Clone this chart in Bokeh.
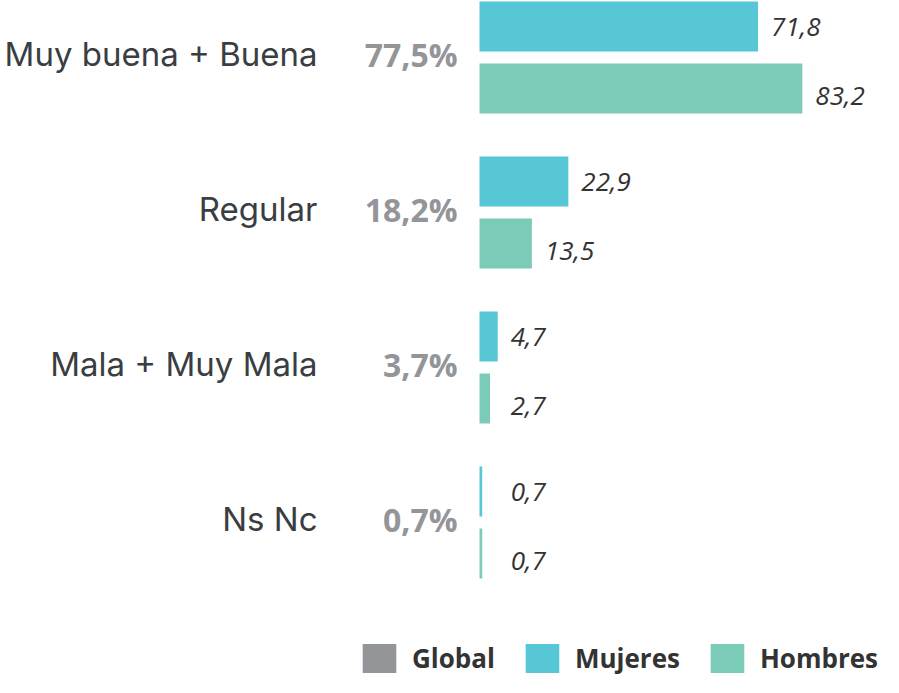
from bokeh.plotting import figure
from bokeh.models import Range1d, ColumnDataSource, Legend, LegendItem
from bokeh.core.properties import value
from bokeh.embed import file_html
from bokeh.resources import INLINE

categories = ["Muy buena + Buena", "Regular", "Mala + Muy Mala", "Ns Nc"]
global_pct = [77.5, 18.2, 3.7, 0.7]
mujeres = [71.8, 22.9, 4.7, 0.7]
hombres = [83.2, 13.5, 2.7, 0.7]
series_names = ["Global", "Mujeres", "Hombres"]

C_GLOBAL = "#939598"
C_MUJ = "#58C7D5"
C_HOM = "#7BCBB9"
C_TEXT = "#3a3d41"

def fmt(v):
    return ("%.1f" % v).replace(".", ",")

W, H = 883, 677
PXU = 3.88
ORIGIN = 479
p = figure(width=W, height=H, output_backend="svg", toolbar_location=None,
           x_range=Range1d(-ORIGIN / PXU, (W - ORIGIN) / PXU),
           y_range=Range1d(4.0, -57 / 155),
           min_border=0)
p.axis.visible = False
p.grid.visible = False
p.outline_line_color = None

idx = list(range(len(categories)))
BH = 50 / 155
src_m = ColumnDataSource(dict(y=[i - 0.2 for i in idx], v=mujeres,
                              lx=[max(v, 4.7) for v in mujeres],
                              t=[fmt(v) for v in mujeres]))
src_h = ColumnDataSource(dict(y=[i + 0.2 for i in idx], v=hombres,
                              lx=[max(v, 4.7) for v in hombres],
                              t=[fmt(v) for v in hombres]))
src_c = ColumnDataSource(dict(y=idx, cat=categories, zero=[0] * len(idx),
                              g=[fmt(v) + "%" for v in global_pct]))

r_m = p.hbar(y="y", left=0, right="v", height=BH, source=src_m,
             fill_color=C_MUJ, line_color=None)
r_h = p.hbar(y="y", left=0, right="v", height=BH, source=src_h,
             fill_color=C_HOM, line_color=None)
# zero-width swatch renderer for the "Global" legend entry
r_g = p.hbar(y="y", left="zero", right="zero", height=BH, source=src_c,
             fill_color=C_GLOBAL, line_color=None)

p.text(x="lx", y="y", text="t", source=src_m, x_offset=13, y_offset=0,
       text_font=value("Open Sans"), text_font_style="italic",
       text_font_size="26px", text_color="#333333",
       text_align="left", text_baseline="middle")
p.text(x="lx", y="y", text="t", source=src_h, x_offset=13, y_offset=7,
       text_font=value("Open Sans"), text_font_style="italic",
       text_font_size="26px", text_color="#333333",
       text_align="left", text_baseline="middle")

p.text(x=0, y="y", text="cat", source=src_c, x_offset=-162, y_offset=-4,
       text_font=value("Inter"), text_font_size="33px",
       text_color=C_TEXT, text_align="right", text_baseline="middle")
p.text(x=0, y="y", text="g", source=src_c, x_offset=-22, y_offset=-3,
       text_font=value("Open Sans"), text_font_style="bold",
       text_font_size="32px", text_color=C_GLOBAL,
       text_align="right", text_baseline="middle")

legend = Legend(items=[LegendItem(label=series_names[0], renderers=[r_g]),
                       LegendItem(label=series_names[1], renderers=[r_m]),
                       LegendItem(label=series_names[2], renderers=[r_h])],
                location=(358, 1), orientation="horizontal",
                glyph_width=42, glyph_height=36, label_standoff=12,
                spacing=26, padding=0, margin=0,
                border_line_color=None, background_fill_alpha=0,
                label_text_font="Open Sans", label_text_font_style="bold",
                label_text_font_size="26px", label_text_color="#333333",
                label_height=36)
p.add_layout(legend, "center")

open("out.html", "w").write(file_html(p, INLINE))
